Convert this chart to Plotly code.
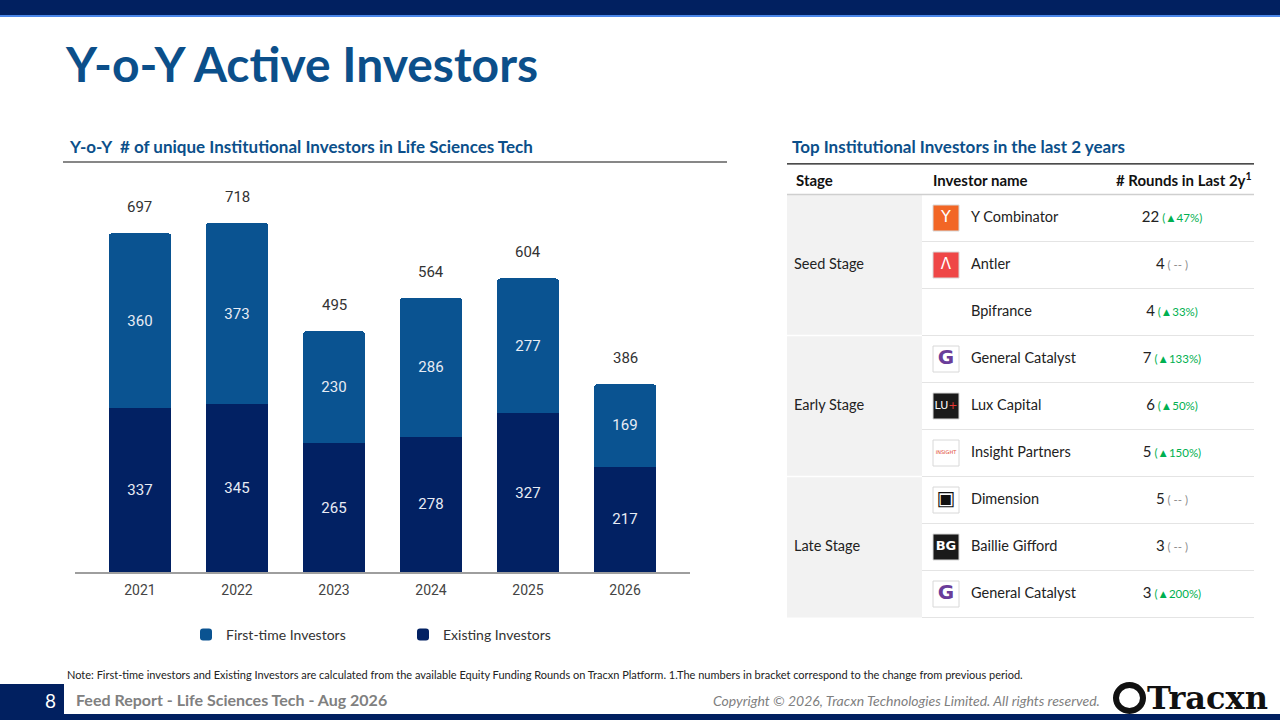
import plotly.graph_objects as go

# --- chart data ---
years = ["2021", "2022", "2023", "2024", "2025", "2026"]
first_time = [360, 373, 230, 286, 277, 169]
existing = [337, 345, 265, 278, 327, 217]
totals = [697, 718, 495, 564, 604, 386]

# --- table data ---
stages = ["Seed Stage", "Early Stage", "Late Stage"]
stage_counts = [3, 3, 3]
investors = ["Y Combinator", "Antler", "Bpifrance", "General Catalyst", "Lux Capital",
             "Insight Partners", "Dimension", "Baillie Gifford", "General Catalyst"]
rounds = [22, 4, 4, 7, 6, 5, 5, 3, 3]
changes = ["47%", None, "33%", "133%", "50%", "150%", None, None, "200%"]

# logo look-alikes (glyph, background, foreground)
logo_glyph = ["Y", "Λ", " ", "<b>G</b>", "LU<span style='color:#e53935'>+</span>", "INSIGHT", "▣", "<b>BG</b>", "<b>G</b>"]
logo_bg = ["#f26625", "#ef4747", "rgba(0,0,0,0)", "#ffffff", "#1a1a1a", "#ffffff", "#ffffff", "#1a1a1a", "#ffffff"]
logo_fg = ["#ffffff", "#ffffff", "#ffffff", "#6a3d9a", "#ffffff", "#e0442f", "#111111", "#ffffff", "#6a3d9a"]
logo_edge = ["#d8d8d8", "#d8d8d8", "rgba(0,0,0,0)", "#d8d8d8", "#d8d8d8", "#d8d8d8", "#d8d8d8", "#d8d8d8", "#d8d8d8"]
logo_size = [16, 15, 10, 20, 11, 5, 20, 13, 20]

W, H = 1280, 720
NAVY = "#012060"
BLUE = "#0a5391"
DARK = "#022163"
TITLE = "#0b4f8a"


def px(x):
    return x / W


def py(y):
    return 1 - y / H


fig = go.Figure()

bar_font = dict(family="Roboto", size=15, color="#e8ecf4")
fig.add_trace(go.Bar(
    x=years, y=existing, name="Existing Investors", marker=dict(color=DARK, line_width=0),
    text=existing, textposition="inside", insidetextanchor="middle",
    textfont=bar_font, textangle=0, hoverinfo="skip"))
fig.add_trace(go.Bar(
    x=years, y=first_time, name="First-time Investors", marker=dict(color=BLUE, line_width=0),
    text=first_time, textposition="inside", insidetextanchor="middle",
    textfont=bar_font, textangle=0, hoverinfo="skip"))

annotations = []
for i, t in enumerate(totals):
    annotations.append(dict(x=i, y=t, xref="x", yref="y", text=str(t), showarrow=False,
                            xanchor="center", yanchor="middle", yshift=26,
                            font=dict(family="Roboto", size=15, color="#333333")))

# --- table on its own axes: x in pixels, y in row index ---
ROW = 47
row_top = -1.2
row_bot = 8.55
top_px = 218 + row_top * ROW
bot_px = 218 + row_bot * ROW

shapes = []
start = 0
stage_mid = []
for n in stage_counts:
    shapes.append(dict(type="rect", xref="x2", yref="y2", x0=787, x1=922,
                       y0=start - 0.5, y1=start + n - 0.5, fillcolor="#f2f2f2",
                       line=dict(width=0), layer="below"))
    stage_mid.append(start + (n - 1) / 2)
    start += n
for i in range(len(investors)):
    shapes.append(dict(type="line", xref="x2", yref="y2", x0=922, x1=1254,
                       y0=i + 0.5, y1=i + 0.5, line=dict(color="#e4e4e4", width=1.2)))
b = 0
for n in stage_counts[:-1]:
    b += n
    shapes.append(dict(type="line", xref="x2", yref="y2", x0=787, x1=922,
                       y0=b - 0.5, y1=b - 0.5, line=dict(color="#ffffff", width=1.5)))
shapes.append(dict(type="line", xref="x2", yref="y2", x0=787, x1=1254, y0=-0.5, y1=-0.5,
                   line=dict(color="#cfcfcf", width=1.5)))
shapes.append(dict(type="line", xref="x2", yref="y2", x0=787, x1=1254, y0=-1.15, y1=-1.15,
                   line=dict(color="#111111", width=1.2)))

rows = list(range(len(investors)))
cell_font = dict(family="Lato", size=14.5, color="#222222")
fig.add_trace(go.Scatter(
    x=[787 + 7] * len(stages), y=stage_mid, text=stages, mode="text",
    textposition="middle right", textfont=cell_font,
    xaxis="x2", yaxis="y2", showlegend=False, hoverinfo="skip"))
fig.add_trace(go.Scatter(
    x=[946] * len(investors), y=rows, mode="markers",
    marker=dict(symbol="square", size=26, color=logo_bg, line=dict(color=logo_edge, width=1)),
    xaxis="x2", yaxis="y2", showlegend=False, hoverinfo="skip"))
fig.add_trace(go.Scatter(
    x=[946] * len(investors), y=rows, mode="text", text=logo_glyph,
    textposition="middle center",
    textfont=dict(family="DejaVu Sans", size=logo_size, color=logo_fg),
    xaxis="x2", yaxis="y2", showlegend=False, hoverinfo="skip"))
fig.add_trace(go.Scatter(
    x=[971] * len(investors), y=rows, text=investors, mode="text",
    textposition="middle right", textfont=cell_font,
    xaxis="x2", yaxis="y2", showlegend=False, hoverinfo="skip"))

round_text = []
for r, c in zip(rounds, changes):
    if c:
        tag = "<span style='font-size:11.5px;color:#00b050'> (▲%s)</span>" % c
    else:
        tag = "<span style='font-size:11.5px;color:#8c8c8c'> ( -- )</span>"
    round_text.append("%d%s" % (r, tag))
fig.add_trace(go.Scatter(
    x=[1172] * len(rounds), y=rows, text=round_text, mode="text",
    textposition="middle center", textfont=dict(family="Lato", size=15, color="#222222"),
    xaxis="x2", yaxis="y2", showlegend=False, hoverinfo="skip"))

hdr_font = dict(family="Lato", size=15, color="#111111")
annotations += [
    dict(x=794, y=-0.81, xref="x2", yref="y2", text="<b>Stage</b>", showarrow=False,
         xanchor="left", yanchor="middle", font=hdr_font),
    dict(x=931, y=-0.81, xref="x2", yref="y2", text="<b>Investor name</b>", showarrow=False,
         xanchor="left", yanchor="middle", font=hdr_font),
    dict(x=1184, y=-0.81, xref="x2", yref="y2", text="<b># Rounds in Last 2y<sup>1</sup></b>",
         showarrow=False, xanchor="center", yanchor="middle", font=hdr_font),
]

# --- page furniture ---
shapes += [
    dict(type="rect", xref="paper", yref="paper", x0=0, x1=1, y0=py(15), y1=1,
         fillcolor=NAVY, line=dict(width=0)),
    dict(type="line", xref="paper", yref="paper", x0=0, x1=1, y0=py(16), y1=py(16),
         line=dict(color="#4a86e8", width=2)),
    dict(type="line", xref="paper", yref="paper", x0=px(63), x1=px(727), y0=py(162), y1=py(162),
         line=dict(color="#111111", width=1.2)),
    dict(type="rect", xref="paper", yref="paper", x0=0, x1=px(64), y0=0, y1=py(684),
         fillcolor=NAVY, line=dict(width=0)),
    dict(type="rect", xref="paper", yref="paper", x0=0, x1=1, y0=0, y1=py(714),
         fillcolor=NAVY, line=dict(width=0)),
    dict(type="circle", xref="paper", yref="paper", x0=px(1116), x1=px(1143), y0=py(711), y1=py(685),
         line=dict(color="#111111", width=6)),
]


def label(x, y, text, size, color, family="Lato", anchor="left"):
    return dict(x=px(x), y=py(y), xref="paper", yref="paper", text=text, showarrow=False,
                xanchor=anchor, yanchor="middle", font=dict(family=family, size=size, color=color))


annotations += [
    label(63, 63, "<b>Y-o-Y Active Investors</b>", 48, TITLE),
    label(67, 147, "<b>Y-o-Y  # of unique Institutional Investors in Life Sciences Tech</b>", 17, TITLE),
    label(790, 147, "<b>Top Institutional Investors in the last 2 years</b>", 17, TITLE),
    label(65, 674, "Note: First-time investors and Existing Investors are calculated from the available "
                   "Equity Funding Rounds on Tracxn Platform. 1.The numbers in bracket correspond to "
                   "the change from previous period.", 11, "#222222"),
    label(50, 700, "8", 19, "#ffffff", anchor="center"),
    label(74, 699, "<b>Feed Report - Life Sciences Tech - Aug 2026</b>", 16, "#808080"),
    label(1102, 700, "<i>Copyright © 2026, Tracxn Technologies Limited. All rights reserved.</i>",
          14, "#7f7f7f", anchor="right"),
    label(1145, 698, "<b>Tracxn</b>", 32, "#111111", family="DejaVu Serif"),
]

fig.update_layout(
    width=W, height=H, margin=dict(l=0, r=0, t=0, b=0),
    paper_bgcolor="white", plot_bgcolor="white",
    barmode="stack", bargap=0.36, barcornerradius=3,
    xaxis=dict(domain=[px(75), px(690)], type="category", range=[-0.67, 5.67],
               showline=True, linecolor="#9e9e9e", linewidth=2, showgrid=False,
               ticks="", ticklabelstandoff=4,
               tickfont=dict(family="Roboto", size=14, color="#444444"), fixedrange=True),
    yaxis=dict(domain=[py(572), py(190)], range=[0, 786], visible=False, fixedrange=True),
    xaxis2=dict(domain=[px(787), px(1254)], range=[787, 1254], visible=False, anchor="y2"),
    yaxis2=dict(domain=[py(bot_px), py(top_px)], range=[row_bot, row_top], visible=False,
                anchor="x2"),
    legend=dict(orientation="h", x=px(186), y=py(635), yanchor="middle", xanchor="left",
                traceorder="reversed", entrywidth=172, entrywidthmode="pixels",
                font=dict(family="Lato", size=14, color="#333333")),
    shapes=shapes, annotations=annotations,
    showlegend=True,
)

fig.write_html("out.html", config={"displayModeBar": False},
               post_script="document.body.style.margin='0';")
